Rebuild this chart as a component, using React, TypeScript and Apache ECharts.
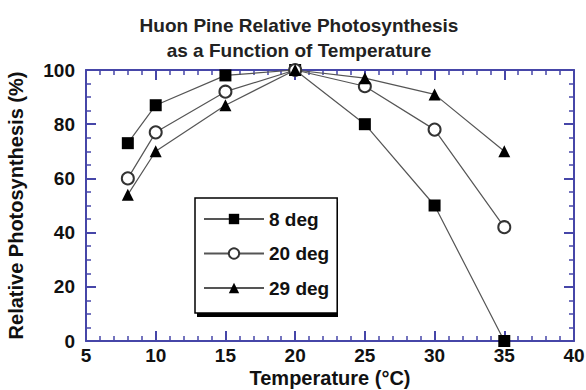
import React, { useEffect, useRef } from "react";
import * as echarts from "echarts";

// Measurement temperatures (°C)
const temperatures = [8, 10, 15, 20, 25, 30, 35];

// Relative photosynthesis (%) for trees grown at each temperature
const growth8 = [73, 87, 98, 100, 80, 50, 0];
const growth20 = [60, 77, 92, 100, 94, 78, 42];
const growth29 = [54, 70, 87, 100, 97, 91, 70];

const seriesNames = ["8 deg", "20 deg", "29 deg"];

const AXIS_BLUE = "#4646a8";
const FONT = "'Liberation Sans', Arial, Helvetica, sans-serif";

const pairs = (ys: number[]) => temperatures.map((t, i) => [t, ys[i]]);

export default function App() {
  const ref = useRef<HTMLDivElement>(null);

  useEffect(() => {
    if (!ref.current) return;
    const chart = echarts.init(ref.current, null, { renderer: "svg" });

    const axisLine = { show: true, onZero: false, lineStyle: { color: AXIS_BLUE, width: 2 } };
    const axisTick = { show: true, inside: true, length: 10, lineStyle: { color: AXIS_BLUE, width: 2 } };
    const minorTick = (n: number) => ({
      show: true,
      splitNumber: n,
      length: 5,
      lineStyle: { color: AXIS_BLUE, width: 1.5 },
    });

    const tickLabel = {
      fontFamily: FONT,
      fontWeight: "bold" as const,
      fontSize: 19,
      color: "#111",
    };
    const nameLabel = { ...tickLabel, fontSize: 20 };

    const lineSeries = (name: string, ys: number[], symbol: string, size: number) => ({
      name,
      type: "line" as const,
      data: pairs(ys),
      symbol,
      symbolSize: size,
      clip: false,
      lineStyle: { color: "#555", width: 1.2 },
      itemStyle: {
        color: symbol === "emptyCircle" ? "#333" : "#000",
        borderWidth: symbol === "emptyCircle" ? 1.2 : 0,
      },
      z: 5,
    });

    chart.setOption({
      animation: false,
      backgroundColor: "#fff",
      title: {
        text: "Huon Pine Relative Photosynthesis\nas a Function of Temperature",
        left: 294,
        textAlign: "center",
        top: 8,
        textStyle: {
          fontFamily: FONT,
          fontWeight: "bold",
          fontSize: 19,
          lineHeight: 25,
          color: "#222",
        },
      },
      grid: {
        left: 86,
        right: 12,
        top: 70,
        bottom: 49,
        containLabel: false,
        outerBoundsMode: "none",
      },
      xAxis: [
        {
          type: "value",
          min: 5,
          max: 40,
          interval: 5,
          axisLine,
          axisTick,
          minorTick: minorTick(5),
          splitLine: { show: false },
          axisLabel: { ...tickLabel, lineHeight: 19, margin: 5 },
          name: "Temperature (°C)",
          nameLocation: "middle",
          nameGap: 28,
          nameMoveOverlap: false,
          nameTextStyle: { ...nameLabel, lineHeight: 18 },
        },
        {
          type: "value",
          position: "top",
          min: 5,
          max: 40,
          interval: 5,
          axisLine,
          axisTick,
          minorTick: minorTick(5),
          splitLine: { show: false },
          axisLabel: { show: false },
        },
      ],
      yAxis: [
        {
          type: "value",
          min: 0,
          max: 100,
          interval: 20,
          axisLine,
          axisTick,
          minorTick: minorTick(4),
          splitLine: { show: false },
          axisLabel: { ...tickLabel, margin: 11 },
          name: "Relative Photosynthesis (%)",
          nameLocation: "middle",
          nameGap: 60,
          nameMoveOverlap: false,
          nameTextStyle: nameLabel,
        },
        {
          type: "value",
          position: "right",
          min: 0,
          max: 100,
          interval: 20,
          axisLine,
          axisTick,
          minorTick: minorTick(4),
          splitLine: { show: false },
          axisLabel: { show: false },
        },
      ],
      legend: {
        data: seriesNames,
        orient: "vertical",
        left: 195,
        top: 198,
        padding: [11, 8, 15, 8],
        itemGap: 14.5,
        itemWidth: 60,
        itemHeight: 13,
        backgroundColor: "#fff",
        borderColor: "#000",
        borderWidth: 1.5,
        textStyle: { ...tickLabel, lineHeight: 20 },
        selectedMode: false,
        z: 10,
      },
      // drop shadow under the legend box
      graphic: [
        {
          type: "rect",
          left: 197,
          top: 202,
          z: 9,
          shape: { width: 141, height: 115 },
          style: { fill: "#000" },
        },
      ],
      series: [
        lineSeries(seriesNames[0], growth8, "rect", 12),
        lineSeries(seriesNames[1], growth20, "emptyCircle", 12),
        lineSeries(seriesNames[2], growth29, "triangle", 12),
      ],
    });

    return () => chart.dispose();
  }, []);

  return (
    <div
      ref={ref}
      style={{ position: "fixed", left: 0, top: 0, width: 586, height: 390 }}
    />
  );
}
